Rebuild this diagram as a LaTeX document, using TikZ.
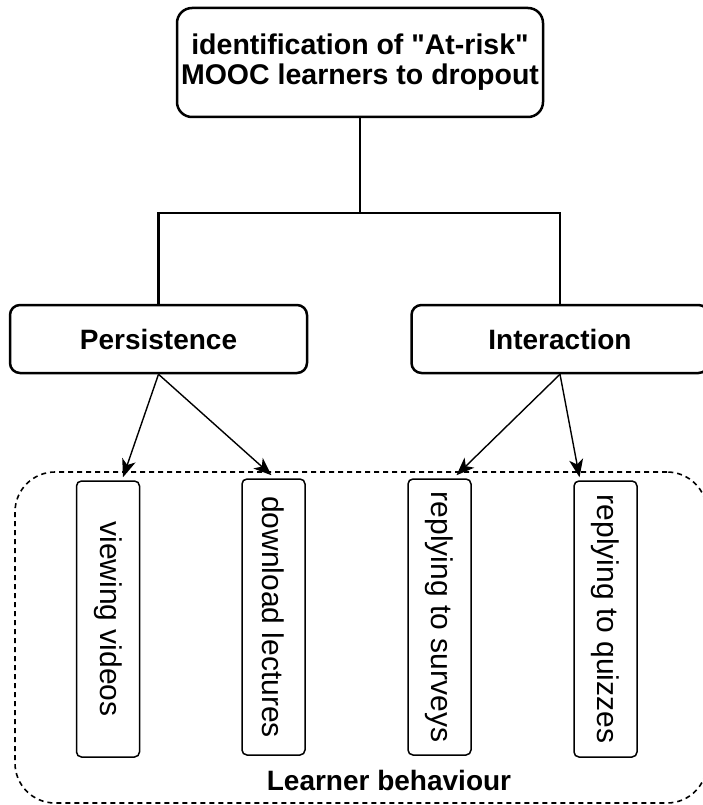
\documentclass[tikz,border=0pt]{standalone}
\usepackage{fontspec}
\setmainfont{Liberation Sans}
\usetikzlibrary{arrows.meta}

\begin{document}
\begin{tikzpicture}[x=1pt, y=-1pt,
  goalbox/.style={draw, line width=2.5pt, rounded corners=15pt, align=center, minimum width=366pt, minimum height=109pt, font=\fontsize{28.5}{30}\selectfont\bfseries},
  factorbox/.style={draw, line width=2.5pt, rounded corners=10pt, minimum width=297pt, minimum height=68pt, font=\fontsize{28}{30}\selectfont\bfseries},
  actionbox/.style={draw, line width=1.5pt, rounded corners=5pt, rotate=-90, minimum width=276pt, minimum height=63pt, inner sep=0pt, font=\fontsize{30}{36}\selectfont},
  groupbox/.style={draw, line width=1.6pt, dash pattern=on 5pt off 4pt, rounded corners=40pt, minimum width=692pt, minimum height=331pt},
  tree/.style={line width=2.2pt},
  link/.style={line width=1.4pt, -{Stealth[length=18pt, width=14pt, inset=5pt]}}]
\useasboundingbox (0,0) rectangle (702,805);
\node[groupbox] (behaviour) at (361,637.5) {};
\node[font=\fontsize{28}{30}\selectfont\bfseries] (behaviourlabel) at (389,780) {Learner behaviour};
\node[goalbox] (goal) at (360,62.5) {identification of \textquotedbl At-risk\textquotedbl\\MOOC learners to dropout};
\node[factorbox] (persistence) at (158.5,339) {Persistence};
\node[factorbox] (interaction) at (560,339) {Interaction};
\node[actionbox] (viewing) at (108,619) {viewing videos};
\node[actionbox] (download) at (273.5,617) {download lectures};
\node[actionbox] (surveys) at (439.5,617) {replying to surveys};
\node[actionbox] (quizzes) at (605.5,619) {replying to quizzes};
\coordinate (split) at (360,213);
\draw[tree] (goal.south) -- (split);
\draw[tree] (split) -| (persistence.north);
\draw[tree] (split) -| (interaction.north);
\draw[link] (persistence.south) -- ([xshift=15pt, yshift=3pt]viewing.west);
\draw[link] (persistence.south) -- ([xshift=-2pt, yshift=3pt]download.west);
\draw[link] (interaction.south) -- ([xshift=17pt, yshift=3pt]surveys.west);
\draw[link] (interaction.south) -- ([xshift=-26pt, yshift=3pt]quizzes.west);
\end{tikzpicture}
\end{document}
